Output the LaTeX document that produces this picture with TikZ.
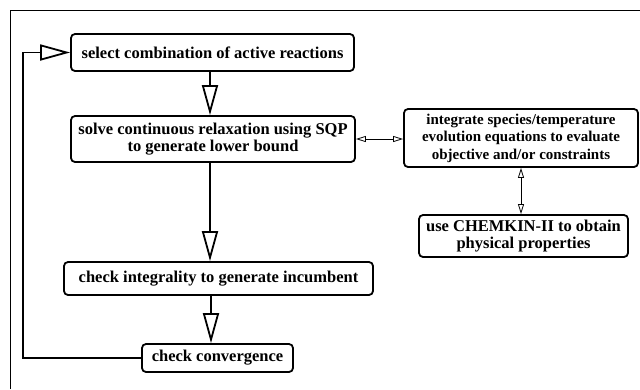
\documentclass[tikz,border=0pt]{standalone}
\usepackage{fontspec}
\setmainfont{Liberation Serif}
\usetikzlibrary{arrows.meta, positioning}

\begin{document}
\begin{tikzpicture}[x=1pt, y=-1pt,
        box/.style={draw, line width=1.8pt, rounded corners=4pt, align=center,
            inner sep=0pt, font=\bfseries\fontsize{16.5}{17.5}\selectfont},
        flow/.style={line width=1.8pt, -{Triangle[open, length=30pt, width=16pt]}},
        link/.style={line width=0.8pt, {Triangle[open, length=10pt, width=6pt]}-{Triangle[open, length=10pt, width=6pt]}}]
        \useasboundingbox (0,0) rectangle (640,389);
        \draw [line width=0.9pt] (10,389) -- (10,10) -- (640,10);
        \node [box, minimum width=283pt, minimum height=37pt] (select) at (212.5,52.5) {select combination of active reactions};
        \node [box, minimum width=284pt, minimum height=46pt] (solve) at (213,139) {solve continuous relaxation using SQP\\to generate lower bound};
        \node [box, minimum width=234pt, minimum height=58pt, font=\bfseries\fontsize{15}{17.5}\selectfont] (integ) at (521,138) {integrate species/temperature\\evolution equations to evaluate\\objective and/or constraints};
        \node [box, minimum width=209pt, minimum height=42pt] (chem) at (523.5,236) {use CHEMKIN-II to obtain\\physical properties};
        \node [box, minimum width=309pt, minimum height=33pt] (integral) at (218.5,278.5) {check integrality to generate incumbent};
        \node [box, minimum width=151pt, minimum height=28pt] (conv) at (217.5,358) {check convergence};
        \coordinate (back) at (23,200);
        \draw [flow] (select.south -| 210,0) -- (solve.north -| 210,0);
        \draw [flow] (solve.south -| 210,0) -- (integral.north -| 210,0);
        \draw [flow] (integral.south -| 211,0) -- (conv.north -| 211,0);
        \draw [flow] (conv.west) -| (back) |- (select.west);
        \draw [link] (solve.east) -- (integ.west |- solve.east);
        \draw [link] (integ.south -| 521,0) -- (chem.north -| 521,0);
\end{tikzpicture}
\end{document}
